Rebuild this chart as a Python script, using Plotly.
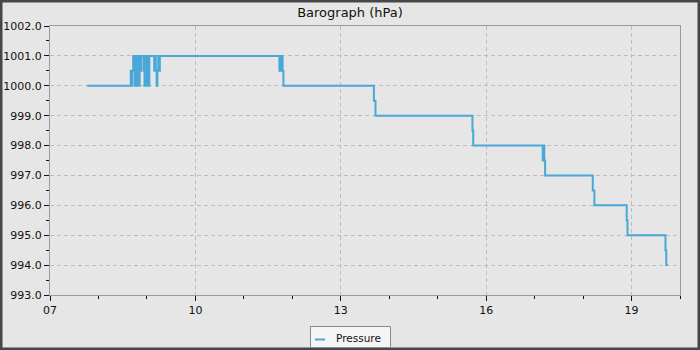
import plotly.graph_objects as go

DAY = "2024-01-01 "

times = [
    "07:46",
    "08:40", "08:41", "08:42", "08:43", "08:44", "08:45",
    "08:46", "08:47", "08:48", "08:49", "08:50", "08:51", "08:52", "08:53",
    "08:56", "08:57", "08:58", "08:59", "09:00", "09:01", "09:02", "09:03",
    "09:09", "09:10", "09:11", "09:12", "09:13", "09:14", "09:15", "09:16",
    "11:44", "11:45", "11:46", "11:47", "11:48", "11:49",
    "13:41", "13:43",
    "15:43", "15:44",
    "17:10", "17:11", "17:12", "17:13",
    "18:12", "18:14",
    "18:54", "18:55",
    "19:42", "19:43", "19:45",
]
pressure = [
    1000.0,
    1000.5, 1000.0, 1000.5, 1001.0, 1000.5, 1000.0,
    1001.0, 1000.0, 1001.0, 1000.5, 1000.0, 1001.0, 1000.5, 1001.0,
    1000.5, 1000.0, 1001.0, 1000.0, 1000.5, 1001.0, 1000.0, 1001.0,
    1000.5, 1001.0, 1000.5, 1000.0, 1000.5, 1001.0, 1000.5, 1001.0,
    1000.5, 1001.0, 1000.5, 1001.0, 1000.5, 1000.0,
    999.5, 999.0,
    998.5, 998.0,
    997.5, 998.0, 997.5, 997.0,
    996.5, 996.0,
    995.5, 995.0,
    994.5, 994.0, 994.0,
]

x_range = ["07:00", "20:00"]
y_range = [993.0, 1002.0]
title_text = "Barograph (hPa)"
series_name = "Pressure"

FONT = "DejaVu Sans, sans-serif"
BG = "#e6e6e6"
LINE = "#4aa8d8"
GRID_DASH = "4px,3px"

fig = go.Figure()
fig.add_trace(go.Scatter(
    x=[DAY + t for t in times],
    y=pressure,
    mode="lines",
    line=dict(color=LINE, width=2, shape="hv"),
    name=series_name,
    showlegend=False,
))

W, H = 700, 350
ml, mr, mt, mb = 50, 20, 26, 55
pw, ph = W - ml - mr, H - mt - mb

fig.update_layout(
    width=W, height=H,
    margin=dict(l=ml, r=mr, t=mt, b=mb, pad=0, autoexpand=False),
    paper_bgcolor=BG,
    plot_bgcolor=BG,
    font=dict(family=FONT, size=11, color="#111111"),
    title=dict(text=title_text, x=0.5, xanchor="center", y=1 - 12 / H, yanchor="middle",
               font=dict(family=FONT, size=13, color="#111111")),
    showlegend=False,
    xaxis=dict(
        type="date", automargin=False,
        range=[DAY + x_range[0], DAY + x_range[1]],
        tick0=DAY + "07:00", dtick=3 * 3600000, tickformat="%H",
        showgrid=True, gridcolor="#bdbdbd", griddash=GRID_DASH, gridwidth=1,
        showline=True, linecolor="#9a9a9a", linewidth=1, mirror=True,
        ticks="outside", ticklen=5, tickcolor="#111111", tickwidth=1,
        minor=dict(dtick=3600000, tick0=DAY + "07:00", ticks="outside", ticklen=3,
                   tickcolor="#111111", showgrid=False),
        zeroline=False,
        tickfont=dict(family=FONT, size=11, color="#111111"),
        fixedrange=True,
    ),
    yaxis=dict(
        range=y_range, dtick=1, tick0=993, tickformat=".1f", automargin=False,
        showgrid=True, gridcolor="#bdbdbd", griddash=GRID_DASH, gridwidth=1,
        showline=True, linecolor="#9a9a9a", linewidth=1, mirror=True,
        ticks="outside", ticklen=5, tickcolor="#111111", tickwidth=1,
        minor=dict(dtick=0.5, tick0=993, ticks="outside", ticklen=3,
                   tickcolor="#111111", showgrid=False),
        zeroline=False,
        tickfont=dict(family=FONT, size=11, color="#111111"),
        fixedrange=True,
    ),
)


def px_x(x):
    return (x - ml) / pw


def px_y(y):
    return 1 - (y - mt) / ph


# outer frame around the whole image
fig.add_shape(
    type="rect", xref="paper", yref="paper",
    x0=px_x(1.25), x1=px_x(W - 1.25), y0=px_y(H - 1.25), y1=px_y(1.25),
    line=dict(color="#474747", width=2.5), fillcolor="rgba(0,0,0,0)", layer="above",
)

# legend box
fig.add_shape(
    type="rect", xref="paper", yref="paper",
    x0=px_x(310.5), x1=px_x(390.5), y0=px_y(347.5), y1=px_y(326.5),
    line=dict(color="#8a8a8a", width=1), fillcolor="#f5f5f5", layer="above",
)
fig.add_shape(
    type="line", xref="paper", yref="paper",
    x0=px_x(315), x1=px_x(325), y0=px_y(339.5), y1=px_y(339.5),
    line=dict(color=LINE, width=2), layer="above",
)
fig.add_annotation(
    xref="paper", yref="paper", x=px_x(334), y=px_y(337.5),
    xanchor="left", yanchor="middle", showarrow=False,
    text=series_name, font=dict(family=FONT, size=10.5, color="#111111"),
)

fig.write_html("out.html")
